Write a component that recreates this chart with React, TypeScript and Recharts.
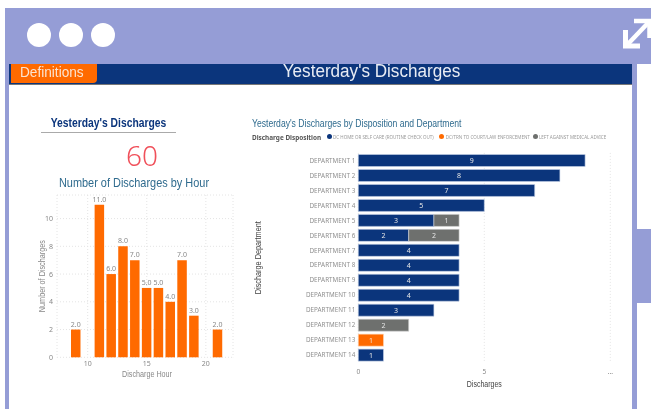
import React from "react";
import { BarChart, Bar, XAxis, YAxis, CartesianGrid, LabelList, Legend, Label } from "recharts";

const hours = [9, 11, 12, 13, 14, 15, 16, 17, 18, 19, 21];
const hourCounts = [2, 11, 6, 8, 7, 5, 5, 4, 7, 3, 2];
const departments = Array.from({ length: 14 }, (_, i) => `DEPARTMENT ${i + 1}`);
const routine = [9, 8, 7, 5, 3, 2, 4, 4, 4, 4, 3, null, null, 1];
const court = [null, null, null, null, null, null, null, null, null, null, null, null, 1, null];
const ama = [null, null, null, null, 1, 2, null, null, null, null, null, 2, null, null];
const dispositionNames = ["DC HOME OR SELF CARE (ROUTINE CHECK OUT)", "DC/TRN TO COURT/LAW ENFORCEMENT", "LEFT AGAINST MEDICAL ADVICE"];

const hourData = hours.map((h, i) => ({ hour: h, count: hourCounts[i] }));
const deptData = departments.map((d, i) => ({ dept: d, routine: routine[i], court: court[i], ama: ama[i] }));

const NAVY = "#0B357C";
const ORANGE = "#FF6A00";
const GRAY = "#6E706E";
const FRAME = "#959DD6";
const HEAD = '"Liberation Sans", sans-serif';
const SANS = '"Noto Sans", sans-serif';

const box = (left: number, top: number, width: number, height: number, background: string, extra: React.CSSProperties = {}): React.CSSProperties => ({
  position: "absolute", left, top, width, height, background, ...extra,
});

function Squeezed(p: { left: number; top: number; width: number; size: number; color: string; scale: number; align?: "center" | "left"; weight?: number; family?: string; children: React.ReactNode }) {
  const align = p.align ?? "center";
  return (
    <div style={{
      position: "absolute", left: p.left, top: p.top, width: p.width, fontSize: p.size, color: p.color, lineHeight: 1,
      fontFamily: p.family ?? HEAD, fontWeight: p.weight ?? 400, whiteSpace: "nowrap", textAlign: align,
      transform: `scaleX(${p.scale})`, transformOrigin: align === "center" ? "50% 50%" : "0 50%",
    }}>{p.children}</div>
  );
}

const legendColors = [NAVY, ORANGE, GRAY];
const legendX = [0, 112.7, 206];
function DispositionLegend() {
  return (
    <div style={{ position: "relative", height: 10, fontFamily: SANS }}>
      <span style={{ position: "absolute", left: 0, top: 1, fontSize: 6.4, fontWeight: 700, color: "#555" }}>Discharge Disposition</span>
      {dispositionNames.map((n, i) => (
        <span key={n} style={{ position: "absolute", left: 74.5 + legendX[i], top: 0, fontSize: 4.5, lineHeight: "10px", color: "#999", whiteSpace: "nowrap" }}>
          <span style={{ display: "inline-block", width: 5, height: 5, borderRadius: 3, background: legendColors[i], marginRight: 1.5 }} />
          {n}
        </span>
      ))}
    </div>
  );
}

function axisTitleX(value: string, len: number, dy: number, fill: string, size: number, dx = 0) {
  return (props: any) => {
    const vb = props.viewBox;
    return (
      <text x={vb.x + vb.width / 2 + dx} y={vb.y + dy} textAnchor="middle" fontSize={size} fill={fill} fontFamily={HEAD}
        textLength={len} lengthAdjust="spacingAndGlyphs">{value}</text>
    );
  };
}
function axisTitleY(value: string, len: number, dx: number, fill: string, size: number) {
  return (props: any) => {
    const vb = props.viewBox;
    const x = vb.x + dx;
    const y = vb.y + vb.height / 2;
    return (
      <text x={x} y={y} transform={`rotate(-90 ${x} ${y})`} textAnchor="middle" fontSize={size} fill={fill} fontFamily={HEAD}
        textLength={len} lengthAdjust="spacingAndGlyphs">{value}</text>
    );
  };
}
function DeptTick(props: any) {
  return (
    <text x={props.x} y={props.y} dy={2.3} textAnchor="end" fontSize={6.3} fill="#8f8f8f" fontFamily={SANS}>{props.payload.value}</text>
  );
}

export default function App() {
  return (
    <div style={{ position: "fixed", left: 0, top: 0, width: 651, height: 409, overflow: "hidden", background: "#fff", filter: "blur(0.45px)" }}>
      <div style={box(5, 64, 4, 345, FRAME)} />
      <div style={box(632, 64, 5, 345, FRAME)} />
      <div style={box(637, 229, 14, 74, FRAME)} />

      <div style={box(9, 64, 623, 20, NAVY, { borderBottom: "1px solid #777" })} />
      <Squeezed left={183} top={62} width={377} size={18} color="#E8ECF4" scale={0.95}>Yesterday's Discharges</Squeezed>
      <div style={box(11, 64, 86, 18.5, ORANGE, { borderBottomRightRadius: 4 })} />
      <Squeezed left={20} top={65} width={80} size={14.5} color="#FBE3D0" scale={0.94} align="left">Definitions</Squeezed>

      <div style={box(5, 8, 646, 56, FRAME)} />
      {[39, 71, 103].map((x) => (
        <div key={x} style={box(x - 12, 23, 24, 24, "#fff", { borderRadius: 12 })} />
      ))}
      <svg style={{ position: "absolute", left: 620, top: 16, width: 31, height: 36 }} viewBox="0 0 31 36">
        <path d="M7 29 L28 7" stroke="#fff" strokeWidth="4.5" fill="none" />
        <path d="M5.5 14 V30 H20" stroke="#fff" strokeWidth="5" fill="none" />
        <path d="M14 5 H29.5 V22" stroke="#fff" strokeWidth="4.5" fill="none" />
      </svg>

      <Squeezed left={41} top={117} width={135} size={12} color={NAVY} scale={0.86} weight={700}>Yesterday's Discharges</Squeezed>
      <div style={box(41, 132, 135, 1.3, "#aaa")} />
      <div style={{ position: "absolute", left: 92, top: 141, width: 100, fontSize: 28, lineHeight: 1, color: "#F0505A", textAlign: "center", fontFamily: SANS, fontWeight: 300 }}>60</div>
      <Squeezed left={34} top={175.5} width={200} size={13.5} color="#2F6B8E" scale={0.81}>Number of Discharges by Hour</Squeezed>

      <div style={{ position: "absolute", left: 20, top: 180 }}>
        <BarChart width={220} height={230} data={hourData} margin={{ top: 15, right: 7, bottom: 22.7, left: 7 }}>
          <CartesianGrid stroke="#e4e4e4" strokeDasharray="1 2" />
          <XAxis dataKey="hour" type="number" domain={[7.4, 22.3]} ticks={[10, 15, 20]} height={30} axisLine={false} tickLine={false} tickSize={0}
            tick={{ fontSize: 7, fill: "#888", fontFamily: SANS }} tickMargin={4}>
            <Label content={axisTitleX("Discharge Hour", 50, 20, "#888", 9.5, 2)} />
          </XAxis>
          <YAxis type="number" domain={[0, 11.7]} ticks={[0, 2, 4, 6, 8, 10]} width={30} axisLine={false} tickLine={false} tickSize={0}
            tick={{ fontSize: 7, fill: "#888", fontFamily: SANS }} tickMargin={4}>
            <Label content={axisTitleY("Number of Discharges", 72, 18, "#888", 9.5)} />
          </YAxis>
          <Bar dataKey="count" fill={ORANGE} barSize={9.5} isAnimationActive={false}>
            <LabelList dataKey="count" position="top" offset={3} formatter={(v: number) => v.toFixed(1)} style={{ fontSize: 7, fill: "#888", fontFamily: SANS }} />
          </Bar>
        </BarChart>
      </div>

      <Squeezed left={252} top={118} width={280} size={10.5} color="#2F6B8E" scale={0.82} align="left">Yesterday's Discharges by Disposition and Department</Squeezed>

      <div style={{ position: "absolute", left: 252, top: 130 }}>
        <BarChart width={380} height={265} data={deptData} layout="vertical" barCategoryGap={1.6} margin={{ top: 12.9, right: 21.7, bottom: 2.5, left: 3 }}>
          <Legend verticalAlign="top" align="left" content={() => <DispositionLegend />} wrapperStyle={{ left: 0, top: 2, width: 370 }} />
          <CartesianGrid horizontal={false} stroke="#e4e4e4" strokeDasharray="1 2" />
          <XAxis type="number" domain={[0, 10]} ticks={[0, 5, 10]} height={30} axisLine={false} tickLine={false} tickSize={0}
            tickFormatter={(v: number) => (v === 10 ? "..." : String(v))} tick={{ fontSize: 6.5, fill: "#888", fontFamily: SANS }} tickMargin={7}>
            <Label content={axisTitleX("Discharges", 35, 24, "#444", 9.5)} />
          </XAxis>
          <YAxis type="category" dataKey="dept" width={103.3} interval={0} axisLine={false} tickLine={false} tickSize={0} tickMargin={3} tick={DeptTick}>
            <Label content={axisTitleY("Discharge Department", 73, 6, "#444", 9.5)} />
          </YAxis>
          <Bar dataKey="routine" stackId="a" fill={NAVY} stroke="#C6D2E8" strokeWidth={0.6} isAnimationActive={false}>
            <LabelList dataKey="routine" position="center" style={{ fontSize: 7, fill: "#E6E6E6", fontFamily: SANS }} />
          </Bar>
          <Bar dataKey="court" stackId="a" fill={ORANGE} stroke="#FFD7B8" strokeWidth={0.6} isAnimationActive={false}>
            <LabelList dataKey="court" position="center" style={{ fontSize: 7, fill: "#F2E4D6", fontFamily: SANS }} />
          </Bar>
          <Bar dataKey="ama" stackId="a" fill={GRAY} stroke="#D4D4D4" strokeWidth={0.6} isAnimationActive={false}>
            <LabelList dataKey="ama" position="center" style={{ fontSize: 7, fill: "#E6E6E6", fontFamily: SANS }} />
          </Bar>
        </BarChart>
      </div>
    </div>
  );
}
